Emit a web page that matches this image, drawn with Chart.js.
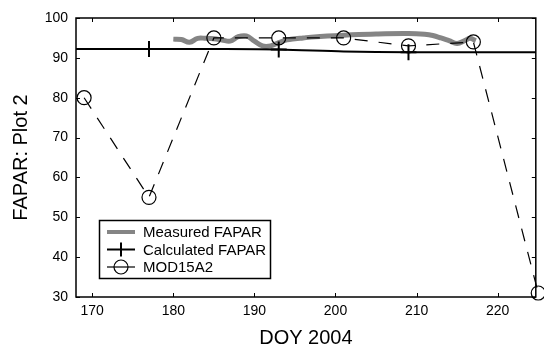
<!DOCTYPE html>
<html>
<head>
<meta charset="utf-8">
<script src="https://cdn.jsdelivr.net/npm/chart.js@4/dist/chart.umd.min.js"></script>
<style>
  body { margin: 0; background: #fff; }
  #wrap { width: 544px; height: 350px; }
</style>
</head>
<body>
<div id="wrap"><canvas id="faparChart" width="544" height="350"></canvas></div>
<script>
const seriesNames = ["Measured FAPAR", "Calculated FAPAR", "MOD15A2"];

const measuredDoy = [180, 181, 182, 183, 184, 185, 186, 187, 188, 189, 190, 191, 192, 193, 194, 195, 196, 197, 199, 201, 205, 209, 211, 212, 213, 214, 215, 216, 216.6, 217.3];
const measuredFapar = [94.7, 94.6, 93.9, 94.9, 94.9, 94.8, 94.5, 94.2, 95.3, 95.5, 94.2, 93.0, 93.0, 93.8, 94.5, 94.8, 95.0, 95.2, 95.5, 95.7, 96.0, 96.1, 95.9, 95.6, 95.0, 94.3, 93.6, 94.4, 94.9, 94.3];

const calculatedDoy = [168, 177, 185, 193, 201, 209, 217, 225];
const calculatedFapar = [92.2, 92.2, 92.2, 92.1, 91.6, 91.4, 91.4, 91.4];
const calculatedMarks = [0, 8, 0, 8, 0, 8, 0, 0];

const modisDoy = [169, 177, 185, 193, 201, 209, 217, 225];
const modisFapar = [80, 55, 95, 95, 95, 93, 94, 31];

const xTicks = [170, 180, 190, 200, 210, 220];
const yTicks = [30, 40, 50, 60, 70, 80, 90, 100];

const toPoints = (xs, ys) => xs.map((x, i) => ({ x: x, y: ys[i] }));
const fontName = "'Liberation Sans', Arial, sans-serif";

const frameAndLegend = {
  id: "frameAndLegend",
  afterDatasetsDraw(chart) {
    const { ctx, chartArea: a, scales } = chart;
    ctx.save();
    ctx.strokeStyle = "#000";
    ctx.lineWidth = 1.5;
    ctx.strokeRect(a.left, a.top, a.right - a.left, a.bottom - a.top);
    ctx.lineWidth = 1;
    ctx.beginPath();
    xTicks.forEach((t) => {
      const px = Math.round(scales.x.getPixelForValue(t)) + 0.5;
      ctx.moveTo(px, a.bottom); ctx.lineTo(px, a.bottom - 4);
      ctx.moveTo(px, a.top); ctx.lineTo(px, a.top + 4);
    });
    yTicks.forEach((t) => {
      const py = Math.round(scales.y.getPixelForValue(t)) + 0.5;
      ctx.moveTo(a.left, py); ctx.lineTo(a.left + 4, py);
      ctx.moveTo(a.right, py); ctx.lineTo(a.right - 4, py);
    });
    ctx.stroke();

    // legend box inside the plot
    const bx = 99.5, by = 220.5, bw = 171, bh = 58;
    ctx.fillStyle = "#fff";
    ctx.fillRect(bx, by, bw, bh);
    ctx.lineWidth = 1.5;
    ctx.strokeRect(bx, by, bw, bh);
    const rows = [232, 249.5, 267];
    const sx0 = 107, sx1 = 135, cx = 121;
    ctx.font = "15px " + fontName;
    ctx.textBaseline = "middle";
    ctx.textAlign = "left";
    rows.forEach((ry, i) => {
      const ds = chart.data.datasets[i];
      ctx.strokeStyle = ds.borderColor;
      ctx.lineWidth = i === 0 ? 4 : ds.borderWidth;
      ctx.beginPath();
      ctx.moveTo(sx0, ry); ctx.lineTo(sx1, ry);
      ctx.stroke();
      if (i === 1) {
        ctx.lineWidth = 2;
        ctx.beginPath();
        ctx.moveTo(cx, ry - 7); ctx.lineTo(cx, ry + 7);
        ctx.stroke();
      }
      if (i === 2) {
        ctx.beginPath();
        ctx.arc(cx, ry, 7, 0, Math.PI * 2);
        ctx.stroke();
      }
      ctx.fillStyle = "#000";
      ctx.fillText(seriesNames[i], 143, ry + 1);
    });
    ctx.restore();
  }
};

const ctx = document.getElementById("faparChart").getContext("2d");
const faparChart = new Chart(ctx, {
  type: "line",
  data: {
    datasets: [
      {
        label: seriesNames[0],
        data: toPoints(measuredDoy, measuredFapar),
        borderColor: "#858585",
        borderWidth: 5,
        pointRadius: 0,
        tension: 0.4,
        order: 2
      },
      {
        label: seriesNames[1],
        data: toPoints(calculatedDoy, calculatedFapar),
        borderColor: "#000",
        borderWidth: 2,
        pointStyle: "cross",
        pointRadius: calculatedMarks,
        pointBorderWidth: 2,
        pointBorderColor: "#000",
        tension: 0.3,
        order: 1
      },
      {
        label: seriesNames[2],
        data: toPoints(modisDoy, modisFapar),
        borderColor: "#000",
        borderWidth: 1.2,
        borderDash: [13, 11],
        pointStyle: "circle",
        pointRadius: 7,
        pointBorderWidth: 1.2,
        pointBorderColor: "#000",
        pointBackgroundColor: "rgba(0,0,0,0)",
        tension: 0,
        clip: false,
        order: 0
      }
    ]
  },
  options: {
    responsive: false,
    animation: false,
    layout: { padding: { top: 18, right: 3, left: 0, bottom: 0 } },
    plugins: { legend: { display: false }, tooltip: { enabled: false } },
    scales: {
      x: {
        type: "linear",
        min: 168,
        max: 224.7,
        afterBuildTicks: (scale) => { scale.ticks = xTicks.map((v) => ({ value: v })); },
        afterFit: (scale) => { scale.height = 53; },
        grid: { display: false, drawTicks: false },
        border: { display: false },
        ticks: { color: "#000", padding: 6, font: { family: fontName, size: 14 } },
        title: { display: true, text: "DOY 2004", color: "#000", padding: { top: 0, bottom: 0 }, font: { family: fontName, size: 20 } }
      },
      y: {
        type: "linear",
        min: 30,
        max: 100,
        afterBuildTicks: (scale) => { scale.ticks = yTicks.map((v) => ({ value: v })); },
        afterFit: (scale) => { scale.width = 76; },
        grid: { display: false, drawTicks: false },
        border: { display: false },
        ticks: { color: "#000", padding: 8, font: { family: fontName, size: 14 } },
        title: { display: true, text: "FAPAR: Plot 2", color: "#000", padding: { top: 9, bottom: 0 }, font: { family: fontName, size: 20 } }
      }
    }
  },
  plugins: [frameAndLegend]
});
</script>
</body>
</html>
